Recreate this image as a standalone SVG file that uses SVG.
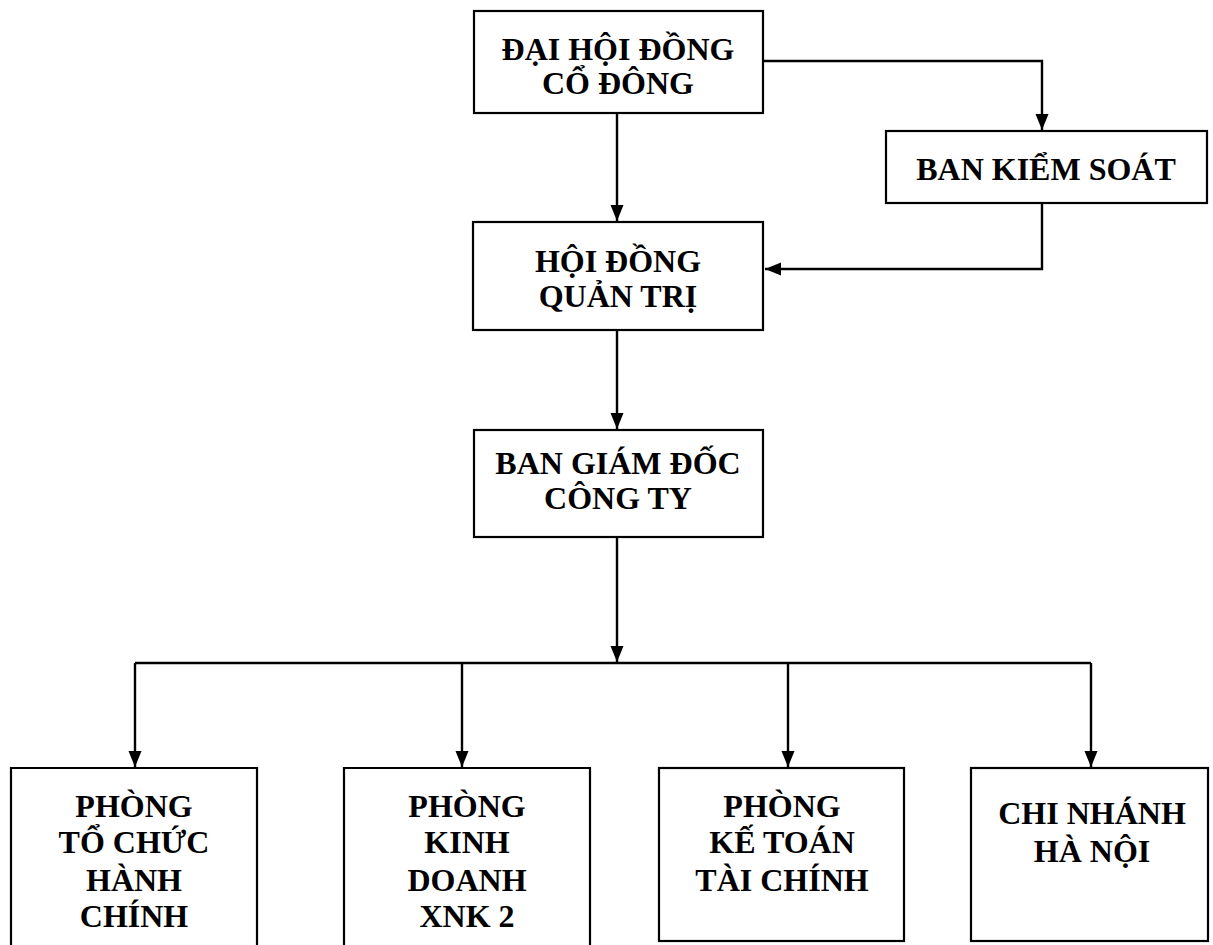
<svg xmlns="http://www.w3.org/2000/svg" width="1213" height="945" viewBox="0 0 1213 945">
<style>
.box{fill:#fff;stroke:#000;stroke-width:2.2}
.lbl{font-family:"Liberation Serif","Times New Roman",serif;font-weight:bold;font-size:32px;text-anchor:middle;fill:#000}
.con{fill:none;stroke:#000;stroke-width:2.4}
</style>
<defs>
<marker id="ah" markerUnits="userSpaceOnUse" markerWidth="18" markerHeight="18" viewBox="0 0 18 18" refX="16" refY="9" orient="auto">
<path d="M0,2.5 L16,9 L0,15.5 Z" fill="#000"/>
</marker>
</defs>
<g id="connectors">
<path class="con" d="M763,61 H1042 V130" marker-end="url(#ah)"/>
<path class="con" d="M617,113 V221" marker-end="url(#ah)"/>
<path class="con" d="M1042,203 V269 H765" marker-end="url(#ah)"/>
<path class="con" d="M617,330 V429" marker-end="url(#ah)"/>
<path class="con" d="M617,537 V662" marker-end="url(#ah)"/>
<path class="con" d="M135,663 H1091"/>
<path class="con" d="M135,663 V767" marker-end="url(#ah)"/>
<path class="con" d="M462,663 V767" marker-end="url(#ah)"/>
<path class="con" d="M788,663 V767" marker-end="url(#ah)"/>
<path class="con" d="M1091,663 V767" marker-end="url(#ah)"/>
</g>
<g id="n-dhdcd">
<rect class="box" x="474" y="11" width="289" height="102"/>
<text class="lbl" x="618" y="60">ĐẠI HỘI ĐỒNG</text>
<text class="lbl" x="618" y="94">CỔ ĐÔNG</text>
</g>
<g id="n-bks">
<rect class="box" x="886" y="131" width="321" height="72"/>
<text class="lbl" x="1046" y="180">BAN KIỂM SOÁT</text>
</g>
<g id="n-hdqt">
<rect class="box" x="473" y="222" width="290" height="108"/>
<text class="lbl" x="618" y="272">HỘI ĐỒNG</text>
<text class="lbl" x="618" y="307">QUẢN TRỊ</text>
</g>
<g id="n-bgd">
<rect class="box" x="474" y="430" width="289" height="107"/>
<text class="lbl" x="618" y="474">BAN GIÁM ĐỐC</text>
<text class="lbl" x="618" y="509">CÔNG TY</text>
</g>
<g id="n-tchc">
<path class="box" d="M11,946 V768 H257 V946"/>
<text class="lbl" x="134" y="817">PHÒNG</text>
<text class="lbl" x="134" y="853">TỔ CHỨC</text>
<text class="lbl" x="134" y="891">HÀNH</text>
<text class="lbl" x="134" y="927">CHÍNH</text>
</g>
<g id="n-kd">
<path class="box" d="M344,946 V768 H590 V946"/>
<text class="lbl" x="467" y="817">PHÒNG</text>
<text class="lbl" x="467" y="853">KINH</text>
<text class="lbl" x="467" y="891">DOANH</text>
<text class="lbl" x="467" y="927">XNK 2</text>
</g>
<g id="n-kttc">
<rect class="box" x="659" y="768" width="245" height="173"/>
<text class="lbl" x="782" y="817">PHÒNG</text>
<text class="lbl" x="782" y="853">KẾ TOÁN</text>
<text class="lbl" x="782" y="891">TÀI CHÍNH</text>
</g>
<g id="n-cnhn">
<rect class="box" x="971" y="768" width="237" height="173"/>
<text class="lbl" x="1092" y="824">CHI NHÁNH</text>
<text class="lbl" x="1092" y="862">HÀ NỘI</text>
</g>
</svg>
